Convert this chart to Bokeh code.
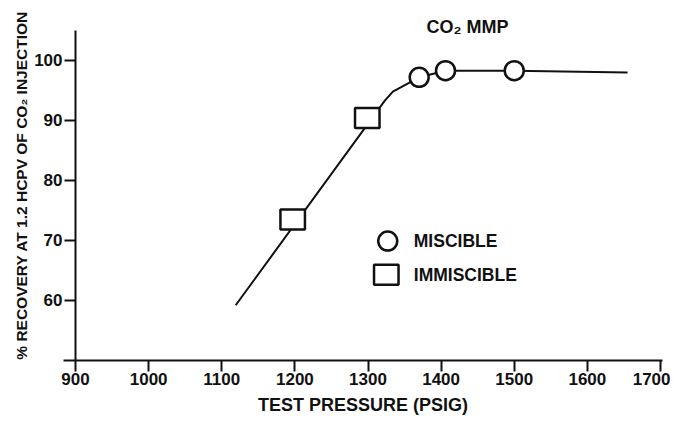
import math
from bokeh.plotting import figure
from bokeh.models import LinearAxis, FixedTicker, Range1d, Label
from bokeh.embed import file_html
from bokeh.resources import INLINE

# ---- data ----
fit_pressure = [1119, 1323, 1334, 1370, 1406, 1500, 1655]
fit_recovery = [59.2, 93.3, 94.8, 97.2, 98.3, 98.3, 98.0]

immiscible_pressure = [1197, 1299]
immiscible_recovery = [73.5, 90.4]

miscible_pressure = [1370, 1406, 1500]
miscible_recovery = [97.2, 98.3, 98.3]

x_ticks = [900, 1000, 1100, 1200, 1300, 1400, 1500, 1600, 1700]
y_ticks = [60, 70, 80, 90, 100]

legend_labels = ["MISCIBLE", "IMMISCIBLE"]
title_text = "CO\u2082 MMP"
x_title = "TEST PRESSURE (PSIG)"
y_title = "% RECOVERY AT 1.2 HCPV OF CO\u2082 INJECTION"

FONT = "Liberation Sans"
INK = "#111111"

p = figure(width=670, height=418,
           x_range=Range1d(797.4, 1713.7), y_range=Range1d(40.33, 110.0),
           x_axis_location=None, y_axis_location=None,
           toolbar_location=None, output_backend="svg",
           min_border=0, outline_line_color=None)
for g in p.grid:
    g.visible = False

def style_axis(ax):
    ax.axis_line_width = 2
    ax.axis_line_color = INK
    ax.major_tick_line_width = 2
    ax.major_tick_line_color = INK
    ax.major_tick_out = 11
    ax.major_tick_in = 0
    ax.minor_tick_out = 0
    ax.minor_tick_in = 0
    ax.major_label_text_font = FONT
    ax.major_label_text_font_style = "bold"
    ax.major_label_text_font_size = "17px"
    ax.major_label_text_color = INK
    ax.major_label_standoff = 2
    ax.axis_label_text_font = FONT
    ax.axis_label_text_font_style = "bold"
    ax.axis_label_text_font_size = "18px"
    ax.axis_label_text_color = INK

xaxis = LinearAxis(ticker=FixedTicker(ticks=x_ticks), fixed_location=50, bounds=(884, 1703))
style_axis(xaxis)
xaxis.axis_label = x_title
xaxis.axis_label_standoff = 6
p.add_layout(xaxis, "below")

yaxis = LinearAxis(ticker=FixedTicker(ticks=y_ticks), fixed_location=900, bounds=(50, 105))
style_axis(yaxis)
p.add_layout(yaxis, "left")

# fitted line
p.line(fit_pressure, fit_recovery, line_width=2, line_color=INK)

# data markers
p.rect(x=immiscible_pressure, y=immiscible_recovery, width=24.5, height=20,
       width_units="screen", height_units="screen",
       fill_color="white", line_color=INK, line_width=2.5)
p.scatter(miscible_pressure, miscible_recovery, marker="circle", size=19,
          fill_color="white", line_color=INK, line_width=2.5)

# manual legend
leg_x, leg_y, leg_step, leg_text_x = 1327, 69.9, 5.6, 1362.6
p.scatter([leg_x], [leg_y], marker="circle", size=19,
          fill_color="white", line_color=INK, line_width=2.5)
p.rect(x=[leg_x - 2], y=[leg_y - leg_step], width=24.5, height=20,
       width_units="screen", height_units="screen",
       fill_color="white", line_color=INK, line_width=2.5)
for i, lab in enumerate(legend_labels):
    p.add_layout(Label(x=leg_text_x, y=leg_y - i * leg_step, text=lab,
                       text_baseline="middle", text_align="left",
                       text_font=FONT, text_font_style="bold",
                       text_font_size="17.5px", text_color=INK))

# title annotation
p.add_layout(Label(x=1436, y=105.5, text=title_text, text_align="center",
                   text_baseline="middle", text_font=FONT, text_font_style="bold",
                   text_font_size="18px", text_color=INK))

# y axis title
p.add_layout(Label(x=825.5, y=79.2, text=y_title, angle=math.pi / 2,
                   text_align="center", text_baseline="middle",
                   text_font=FONT, text_font_style="bold",
                   text_font_size="15.5px", text_color=INK))

open("out.html", "w").write(file_html(p, INLINE))
